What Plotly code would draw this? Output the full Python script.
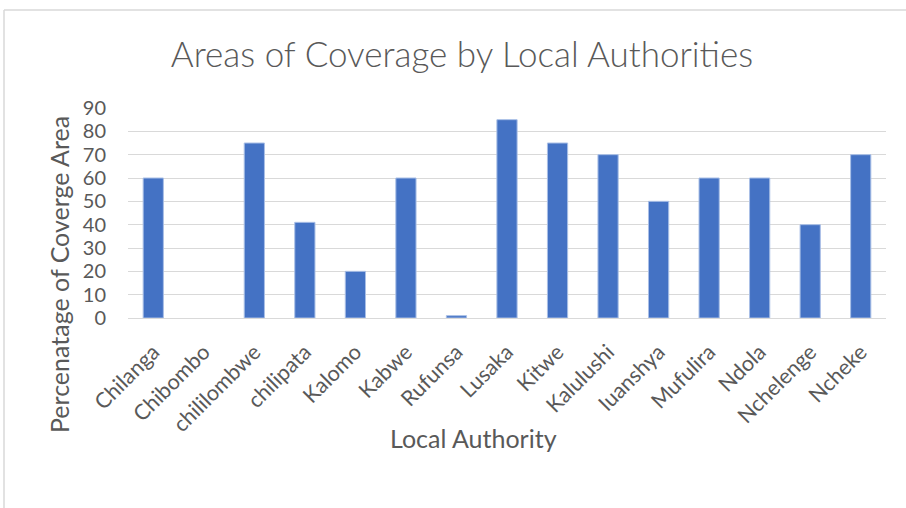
import plotly.graph_objects as go

authorities = ["Chilanga", "Chibombo", "chililombwe", "chilipata", "Kalomo", "Kabwe",
               "Rufunsa", "Lusaka", "Kitwe", "Kalulushi", "Iuanshya", "Mufulira",
               "Ndola", "Nchelenge", "Ncheke"]
coverage = [60, 0, 75, 41, 20, 60, 1, 85, 75, 70, 50, 60, 60, 40, 70]
y_ticks = [0, 10, 20, 30, 40, 50, 60, 70, 80, 90]

FONT = "Lato"
GREY = "#595959"

W, H = 906, 508
L, R, T, B = 128, 20, 108, 190
pw, ph = W - L - R, H - T - B

def px(x):
    return (x - L) / pw

def py(y):
    return (H - B - y) / ph

fig = go.Figure(go.Bar(
    x=authorities, y=coverage,
    marker=dict(color="#4472C4",
                line=dict(color="#A9BFE6",
                          width=[1 if v > 0 else 0 for v in coverage])),
))

fig.update_layout(
    width=W, height=H,
    margin=dict(l=L, r=R, t=T, b=B),
    paper_bgcolor="white", plot_bgcolor="white",
    bargap=0.6,
    showlegend=False,
    font=dict(family=FONT, color=GREY),
    title=dict(text="Areas of Coverage by Local Authorities",
               font=dict(family=FONT, size=35, color=GREY, weight=300),
               x=px(462), xref="paper", xanchor="center",
               y=1 - 55 / H, yanchor="middle"),
)

fig.update_xaxes(
    tickangle=-45, tickfont=dict(size=21.5, color=GREY),
    showline=True, linecolor="#D9D9D9", linewidth=1,
    ticks="", showgrid=False, ticklabelstandoff=12,
)
fig.update_yaxes(
    range=[0, 90], tickvals=y_ticks, tickfont=dict(size=20, color=GREY),
    showgrid=True, gridcolor="#D9D9D9", gridwidth=1,
    zeroline=False, showline=False, ticks="", ticklabelstandoff=21,
)

fig.add_annotation(text="Percenatage of Coverge Area", textangle=-90,
                   xref="paper", yref="paper", x=px(59), y=py(275),
                   showarrow=False, font=dict(size=25, color=GREY),
                   xanchor="center", yanchor="middle")
fig.add_annotation(text="Local Authority",
                   xref="paper", yref="paper", x=px(473), y=py(438),
                   showarrow=False, font=dict(size=25, color=GREY),
                   xanchor="center", yanchor="middle")

# chart frame
fig.add_shape(type="line", xref="paper", yref="paper",
              x0=px(4), x1=px(W + 5), y0=py(10), y1=py(10),
              line=dict(color="#D9D9D9", width=1.5))
fig.add_shape(type="line", xref="paper", yref="paper",
              x0=px(4), x1=px(4), y0=py(10), y1=py(H + 5),
              line=dict(color="#D9D9D9", width=1.5))

fig.write_html("out.html")
